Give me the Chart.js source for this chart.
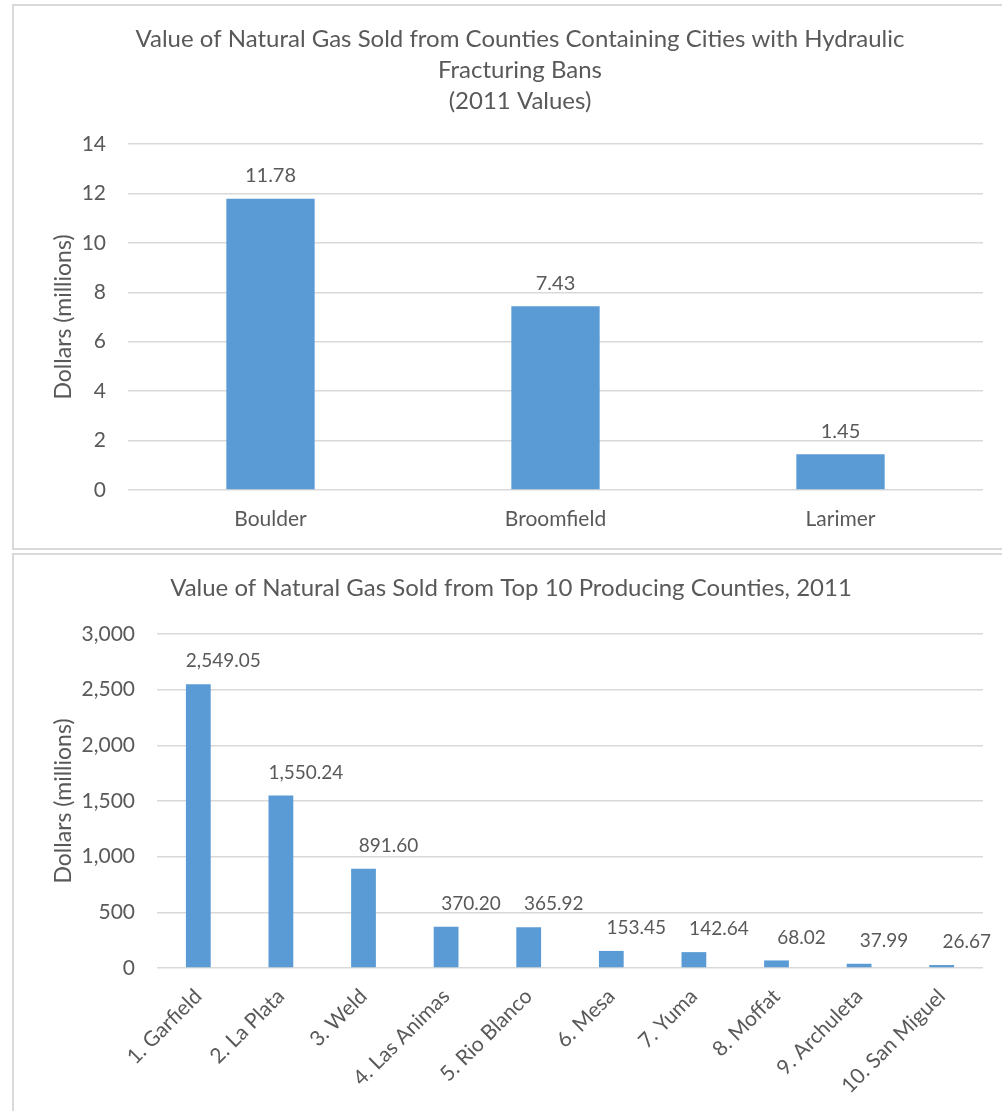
<!DOCTYPE html>
<html>
<head>
<meta charset="utf-8">
<script src="https://cdn.jsdelivr.net/npm/chart.js@4/dist/chart.umd.min.js"></script>
<style>
  html, body { margin: 0; padding: 0; background: #fff; overflow: hidden; }
  .box { position: absolute; left: 12px; width: 1016px; border: 2px solid #d9d9d9; }
  #box1 { top: 4px; height: 542px; }
  #box2 { top: 553px; height: 560px; }
  canvas { display: block; }
</style>
</head>
<body>
<div class="box" id="box1"><canvas id="banChart" width="1016" height="542"></canvas></div>
<div class="box" id="box2"><canvas id="topChart" width="1016" height="560"></canvas></div>
<script>
// counties with cities that ban fracking
const banCounties = ["Boulder", "Broomfield", "Larimer"];
const banValues = [11.78, 7.43, 1.45];
const banTicks = [0, 2, 4, 6, 8, 10, 12, 14];

// top 10 producing counties
const topCounties = ["1. Garfield", "2. La Plata", "3. Weld", "4. Las Animas", "5. Rio Blanco",
  "6. Mesa", "7. Yuma", "8. Moffat", "9. Archuleta", "10. San Miguel"];
const topValues = [2549.05, 1550.24, 891.6, 370.2, 365.92, 153.45, 142.64, 68.02, 37.99, 26.67];
const topTicks = [0, 500, 1000, 1500, 2000, 2500, 3000];

const textColor = "#595959";
const barColor = "#5B9BD5";
const gridColor = "#d9d9d9";
const fontFamily = "Lato, 'Open Sans', sans-serif";

Chart.defaults.font.family = fontFamily;
Chart.defaults.color = textColor;

const fmt2 = (v) =>
  v.toLocaleString("en-US", { minimumFractionDigits: 2, maximumFractionDigits: 2 });

// writes the value over each bar
const valueLabels = {
  id: "valueLabels",
  afterDatasetsDraw(chart, args, opts) {
    const ctx = chart.ctx;
    const meta = chart.getDatasetMeta(0);
    const data = chart.data.datasets[0].data;
    ctx.save();
    ctx.font = opts.size + "px " + fontFamily;
    ctx.fillStyle = textColor;
    ctx.textAlign = "center";
    ctx.textBaseline = "middle";
    meta.data.forEach((bar, i) => {
      ctx.fillText(fmt2(data[i]), bar.x + (opts.dx || 0), bar.y - opts.gap);
    });
    ctx.restore();
  },
};

function makeChart(id, opts) {
  const ctx = document.getElementById(id).getContext("2d");
  // left padding only moves the title's centre; the y axis width takes up the rest
  const padLeft = opts.padLeft;
  return new Chart(ctx, {
    type: "bar",
    data: {
      labels: opts.labels,
      datasets: [
        {
          data: opts.values,
          backgroundColor: barColor,
          categoryPercentage: 1,
          barPercentage: opts.barPct,
        },
      ],
    },
    options: {
      responsive: false,
      animation: false,
      devicePixelRatio: 1,
      layout: { padding: { left: padLeft, right: 47, top: 0, bottom: 0 } },
      plugins: {
        legend: { display: false },
        tooltip: { enabled: false },
        title: {
          display: true,
          text: opts.title,
          color: textColor,
          font: { size: 24, weight: "normal", lineHeight: 31 / 24 },
          padding: { top: 18, bottom: opts.titleGap },
        },
        valueLabels: { size: opts.labelSize, gap: 23, dx: opts.labelDx },
      },
      scales: {
        x: {
          grid: { display: false },
          border: { display: false },
          ticks: {
            color: textColor,
            font: { size: 21 },
            padding: opts.xPad,
            minRotation: opts.rot,
            maxRotation: opts.rot,
            autoSkip: false,
          },
          afterFit(scale) {
            scale.height = opts.xHeight;
          },
        },
        y: {
          min: 0,
          max: opts.ticks[opts.ticks.length - 1],
          afterBuildTicks(scale) {
            scale.ticks = opts.ticks.map((v) => ({ value: v }));
          },
          grid: { color: gridColor, lineWidth: 1.5, drawTicks: false },
          border: { display: false },
          ticks: {
            color: textColor,
            font: { size: 21 },
            padding: 22,
            callback: (v) => v.toLocaleString("en-US"),
          },
          title: {
            display: true,
            text: "Dollars (millions)",
            color: textColor,
            font: { size: 23 },
            padding: { top: 36 - padLeft, bottom: 0 },
          },
          afterFit(scale) {
            scale.width = opts.plotLeft - padLeft;
          },
        },
      },
    },
    plugins: [valueLabels],
  });
}

makeChart("banChart", {
  labels: banCounties,
  values: banValues,
  ticks: banTicks,
  title: ["Value of Natural Gas Sold from Counties Containing Cities with Hydraulic",
    "Fracturing Bans", "(2011 Values)"],
  titleGap: 27,
  barPct: 0.31,
  labelSize: 20,
  labelDx: 0,
  rot: 0,
  xPad: 9,
  xHeight: 58,
  plotLeft: 114,
  padLeft: 43,
});

makeChart("topChart", {
  labels: topCounties,
  values: topValues,
  ticks: topTicks,
  title: "Value of Natural Gas Sold from Top 10 Producing Counties, 2011",
  titleGap: 30,
  barPct: 0.3,
  labelSize: 19,
  labelDx: 25,
  rot: 45,
  xPad: 8,
  xHeight: 147,
  plotLeft: 143,
  padLeft: 25,
});
</script>
</body>
</html>
